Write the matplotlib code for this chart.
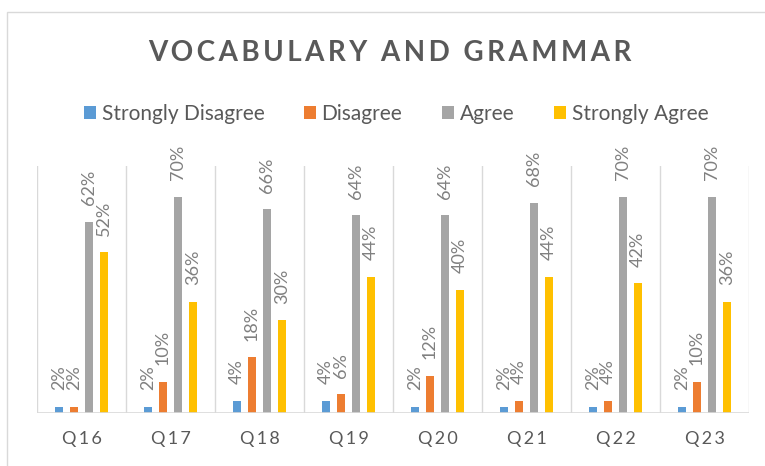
import matplotlib.pyplot as plt
import numpy as np
from matplotlib.patches import Rectangle

# data
questions = ["Q16", "Q17", "Q18", "Q19", "Q20", "Q21", "Q22", "Q23"]
series_names = ["Strongly Disagree", "Disagree", "Agree", "Strongly Agree"]
strongly_disagree = [2, 2, 4, 4, 2, 2, 2, 2]
disagree = [2, 10, 18, 6, 12, 4, 4, 10]
agree = [62, 70, 66, 64, 64, 68, 70, 70]
strongly_agree = [52, 36, 30, 44, 40, 44, 42, 36]

colors = ["#5B9BD5", "#ED7D31", "#A5A5A5", "#FFC000"]
text_dark = "#595959"
label_gray = "#808080"
grid_gray = "#D9D9D9"
HS = "\u200a"  # hair space for letter spacing


def spaced(s, n=1):
    return (HS * n).join(s)


plt.rcParams["font.family"] = ["Lato", "DejaVu Sans"]

fig = plt.figure(figsize=(7.65, 4.66), dpi=100)
W, H = 765, 466

# outer chart border
fig.patches.append(Rectangle((7 / W, -0.01), 1.0, 1 - 12 / H + 0.01,
                             transform=fig.transFigure, fill=False,
                             edgecolor=grid_gray, linewidth=1.0))

ax = fig.add_axes([37 / W, (H - 413) / H, (749 - 37) / W, (413 - 166) / H])

x = np.arange(len(questions))
step = 0.169
width = 0.09
all_series = [strongly_disagree, disagree, agree, strongly_agree]
for i, (vals, name) in enumerate(zip(all_series, series_names)):
    pos = x + (i - 1.5) * step
    vals = np.array(vals) / 100
    ax.bar(pos, vals, width=width, color=colors[i], label=name, zorder=3)
    for px, v in zip(pos, vals):
        ax.annotate(f"{round(v * 100)}%", (px, v), xytext=(0, 12),
                    textcoords="offset points", rotation=90,
                    ha="center", va="bottom", fontsize=13,
                    color=label_gray)

ax.set_xlim(-0.5, len(questions) - 0.5)
ax.set_ylim(0, 0.8)
for b in np.arange(-0.5, len(questions), 1.0):
    ax.axvline(b, color=grid_gray, linewidth=1.0, zorder=1)
ax.axhline(0, color=grid_gray, linewidth=1.2, zorder=4)

for s in ax.spines.values():
    s.set_visible(False)
ax.set_yticks([])
ax.set_xticks(x)
ax.set_xticklabels([spaced(q, 2) for q in questions], fontsize=13,
                   color=text_dark)
ax.tick_params(axis="x", length=0, pad=13)

fig.text(390 / W, 1 - 53 / H, spaced("VOCABULARY AND GRAMMAR", 2),
         ha="center", va="center", fontsize=20, fontweight="bold",
         color=text_dark)

fig.legend(loc="center", bbox_to_anchor=(396 / W, 1 - 114 / H), ncol=4,
           frameon=False, fontsize=15, labelcolor=text_dark,
           handlelength=0.6, handleheight=0.6, handletextpad=0.25,
           columnspacing=1.9)

fig.savefig("out.png", dpi=100)
